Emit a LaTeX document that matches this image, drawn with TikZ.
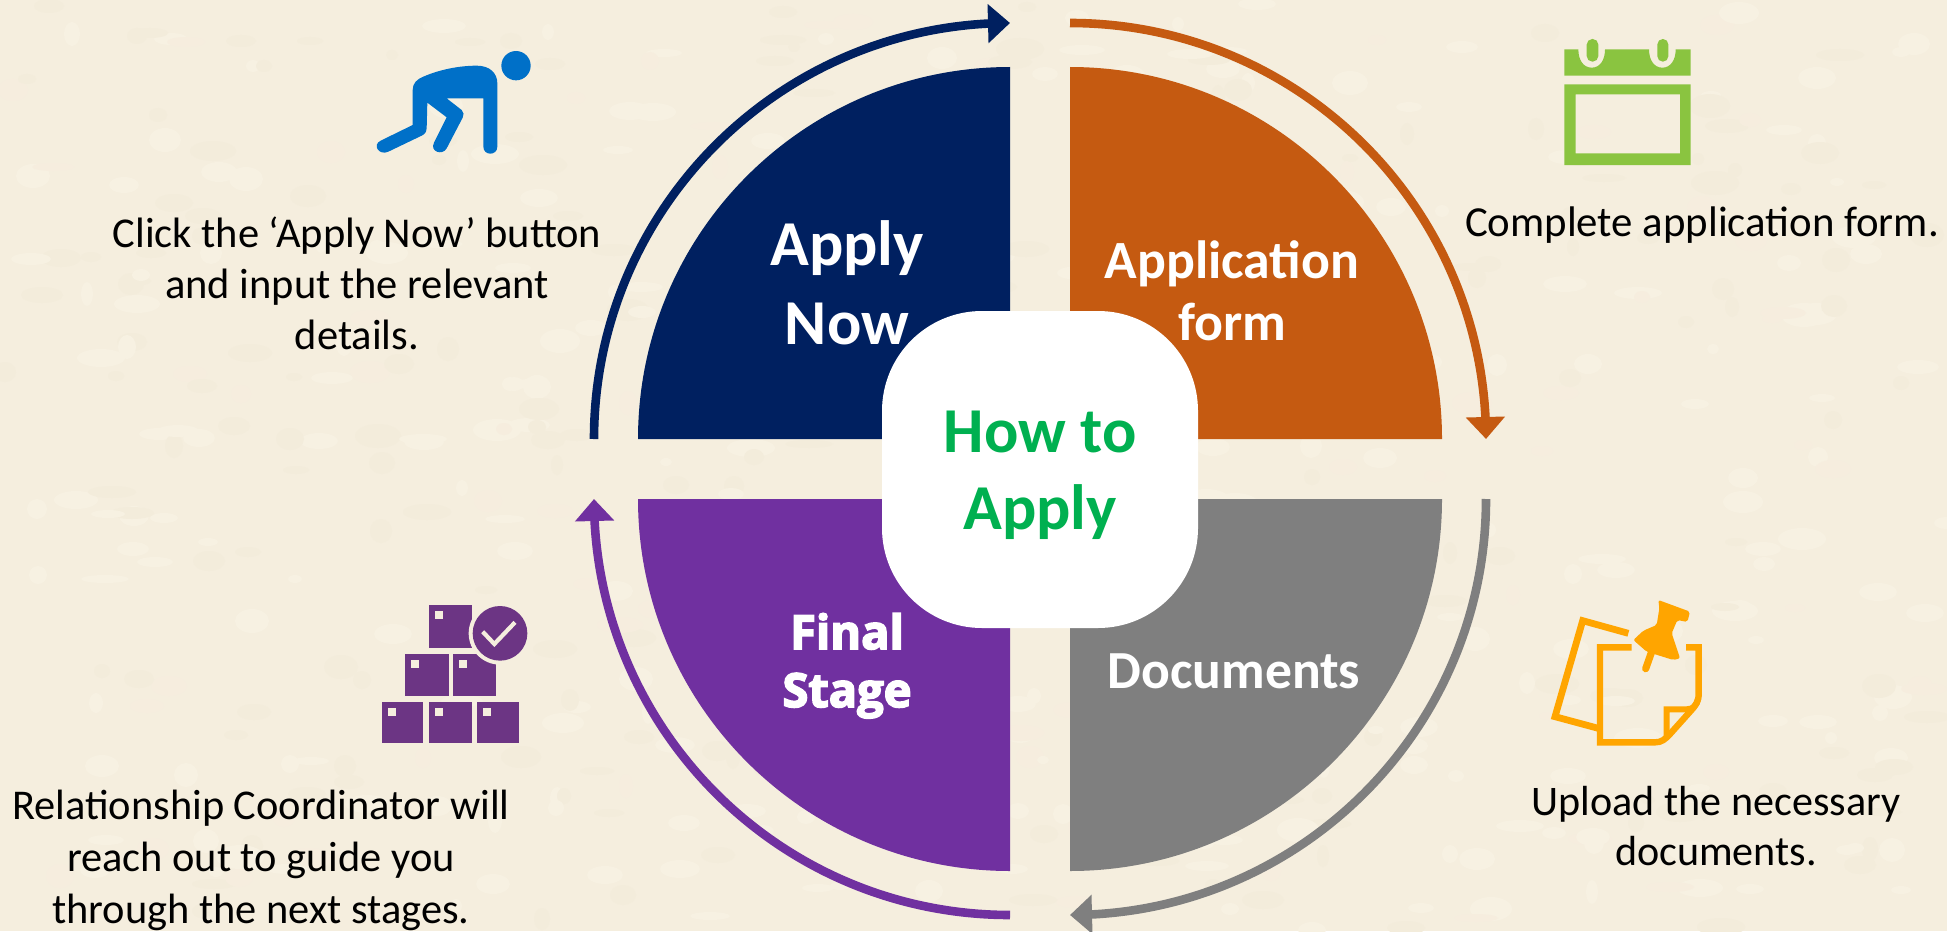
\documentclass[tikz,border=0pt]{standalone}
\usepackage{fontspec}
\setmainfont{Carlito}
\newfontfamily\heavyfont[BoldFeatures={FakeBold=3.5}]{Open Sans}
\usetikzlibrary{arrows.meta,bending}
\definecolor{paper}{HTML}{F5EEDE}
\definecolor{paperA}{HTML}{F7F1E2}
\definecolor{paperB}{HTML}{F3ECDB}
\definecolor{paperC}{HTML}{F6EDDE}
\definecolor{navy}{HTML}{002060}
\definecolor{rust}{HTML}{C55A11}
\definecolor{slate}{HTML}{7F7F7F}
\definecolor{violet}{HTML}{7030A0}
\definecolor{leaf}{HTML}{00B050}
\definecolor{runner}{HTML}{0070C8}
\definecolor{calgreen}{HTML}{8AC440}
\definecolor{amberic}{HTML}{FFA500}
\definecolor{boxpurple}{HTML}{6C3584}
\tikzset{
  ring/.style={line width=4.3pt,-{Triangle[length=11pt,width=19pt]}},
  body/.style={inner sep=0pt,anchor=base,align=center,text=black},
  lab/.style={inner sep=0pt,anchor=base,align=center,text=white},
  hub/.style={rectangle,fill=white,rounded corners=50pt,minimum width=158pt,minimum height=158.5pt,inner sep=0pt}
}
\begin{document}
\begin{tikzpicture}[x=0.5pt,y=-0.5pt]
\useasboundingbox (0,0) rectangle (1947,931);
\fill[paper] (0,0) rectangle (1947,931);
% parchment mottling
\pgfmathsetseed{42}
\foreach \i in {1,...,600}{
  \pgfmathsetmacro{\bx}{random(0,1947)}
  \pgfmathsetmacro{\by}{random(0,931)}
  \pgfmathsetmacro{\bw}{random(6,24)}
  \pgfmathsetmacro{\bh}{random(4,12)}
  \pgfmathtruncatemacro{\bc}{random(1,6)}
  \ifnum\bc<4 \def\bcol{paperA}\else\ifnum\bc<6 \def\bcol{paperB}\else\def\bcol{paperC}\fi\fi
  \fill[\bcol] (\bx,\by) ellipse[x radius=\bw,y radius=\bh];
}
% centres of the four quadrants and ring ends
\coordinate (cNW) at (1010,439);
\coordinate (cNE) at (1070,439);
\coordinate (cSE) at (1070,499);
\coordinate (cSW) at (1010,499);
\coordinate (rNWa) at (594,439);
\coordinate (rNEa) at (1070,23);
\coordinate (rSEa) at (1486,499);
\coordinate (rSWa) at (1010,915);
% quadrants
\fill[navy] (cNW) -- (638,439) arc[start angle=180,end angle=270,radius=372] -- cycle;
\fill[rust] (cNE) -- (1070,67) arc[start angle=270,end angle=360,radius=372] -- cycle;
\fill[slate] (cSE) -- (1442,499) arc[start angle=0,end angle=90,radius=372] -- cycle;
\fill[violet] (cSW) -- (1010,871) arc[start angle=90,end angle=180,radius=372] -- cycle;
% rings
\draw[ring,draw=navy] (rNWa) arc[start angle=180,end angle=270,radius=416];
\draw[ring,draw=rust] (rNEa) arc[start angle=270,end angle=360,radius=416];
\draw[ring,draw=slate] (rSEa) arc[start angle=0,end angle=90,radius=416];
\draw[ring,draw=violet] (rSWa) arc[start angle=90,end angle=180,radius=416];
% quadrant labels
\node[lab,font=\fontsize{32}{39.4}\selectfont\bfseries] (applynow) at (847,344) {Apply\\Now};
\node[lab,font=\fontsize{26.9}{31}\selectfont\bfseries] (appform) at (1232,340) {Application\\form};
\node[lab,font=\fontsize{26.8}{31}\selectfont\bfseries] (docs) at (1234,688) {Documents};
\node[lab,font=\fontsize{23.5}{29}\selectfont\heavyfont\bfseries] (final) at (847,707) {Final\\Stage};
% hub
\node[hub] (hubbox) at (1040,469.5) {};
\node[inner sep=0pt,anchor=base,align=center,text=leaf,font=\fontsize{32}{38.3}\selectfont\bfseries] (hubtext) at (1040,529.3) {How to\\Apply};
% descriptions
\node[body,font=\fontsize{21.25}{25.4}\selectfont] (t1) at (357,349) {Click the ‘Apply Now’ button\\and input the relevant\\details.};
\node[body,font=\fontsize{21.4}{25.4}\selectfont] (t2) at (1702,236) {Complete application form.};
\node[body,font=\fontsize{21.05}{25}\selectfont] (t3) at (1716,865) {Upload the necessary\\documents.};
\node[body,font=\fontsize{21.2}{26}\selectfont] (t4) at (261,923) {Relationship Coordinator will\\reach out to guide you\\through the next stages.};
% runner icon
\begin{scope}[shift={(340,30)},x=0.16667pt,y=-0.16667pt]
\fill[runner] (528,107) circle[radius=44];
\fill[runner] (218,285) -- (218,180) .. controls (218,160) and (230,148) .. (250,140)
  .. controls (300,118) and (360,107) .. (410,107) .. controls (450,107) and (472,130) .. (472,160)
  -- (472,350) .. controls (472,378) and (430,378) .. (430,350) -- (430,205) -- (320,205)
  -- (365,240) .. controls (372,247) and (372,255) .. (368,263) -- (320,355)
  .. controls (308,378) and (268,365) .. (282,338) -- (320,262) -- (262,218) -- (260,295)
  .. controls (258,308) and (255,312) .. (245,317) -- (145,365)
  .. controls (118,378) and (95,345) .. (122,332) -- (218,285) -- cycle;
\end{scope}
% calendar icon
\begin{scope}[shift={(1530,20)},x=0.16667pt,y=-0.16667pt]
\fill[calgreen] (103,88) -- (145,88) .. controls (145,120) and (160,143) .. (185,143)
  .. controls (210,143) and (225,120) .. (225,88) -- (357,88)
  .. controls (357,120) and (372,143) .. (397,143) .. controls (422,143) and (437,120) .. (437,88)
  -- (482,88) -- (482,167) -- (103,167) -- cycle;
\fill[calgreen,rounded corners=2.8pt] (170,57) rectangle (205,125);
\fill[calgreen,rounded corners=2.7pt] (382,57) rectangle (415,125);
\fill[calgreen,even odd rule] (103,193) rectangle (482,435) (137,223) rectangle (450,400);
\end{scope}
% boxes icon
\begin{scope}[shift={(360,590)},x=0.16667pt,y=-0.16667pt]
\foreach \xa/\ya/\xb/\yb in {208/46/335/173,134/192/266/318,280/192/407/318,65/335/190/460,208/335/335/460,352/335/476/460}{
  \fill[boxpurple] (\xa,\ya) rectangle (\xb,\yb);
  \fill[paper] ({\xa+18},{\ya+18}) rectangle ({\xa+42},{\ya+42});
}
\fill[paper] (420,130) circle[radius=94];
\fill[boxpurple] (420,130) circle[radius=82];
\draw[paper,line width=2.1pt] (368,125) -- (403,162) -- (465,97);
\end{scope}
% note icon
\begin{scope}[shift={(1530,590)},x=0.16667pt,y=-0.16667pt]
\draw[amberic,line width=3.4pt,miter limit=4] (295,130) -- (158,92) -- (75,380) -- (205,415);
\draw[amberic,line width=3.2pt] (305,172) -- (210,172) -- (210,457) -- (375,457)
  .. controls (395,457) and (405,448) .. (420,432) -- (480,365) .. controls (498,345) and (506,335) .. (506,310)
  -- (506,172) -- (468,172);
\draw[amberic,line width=3pt] (410,445) -- (410,358) -- (470,358) .. controls (490,358) and (500,345) .. (505,325);
\fill[amberic,rounded corners=1pt] (385,30) -- (480,65) -- (472,96) -- (442,90) -- (425,130) -- (450,205)
  -- (430,210) -- (350,185) -- (310,150) -- (340,122) -- (380,105) -- (388,55) -- cycle;
\draw[amberic,line width=3.6pt,line cap=round] (365,185) -- (347,236);
\end{scope}
\end{tikzpicture}
\end{document}
